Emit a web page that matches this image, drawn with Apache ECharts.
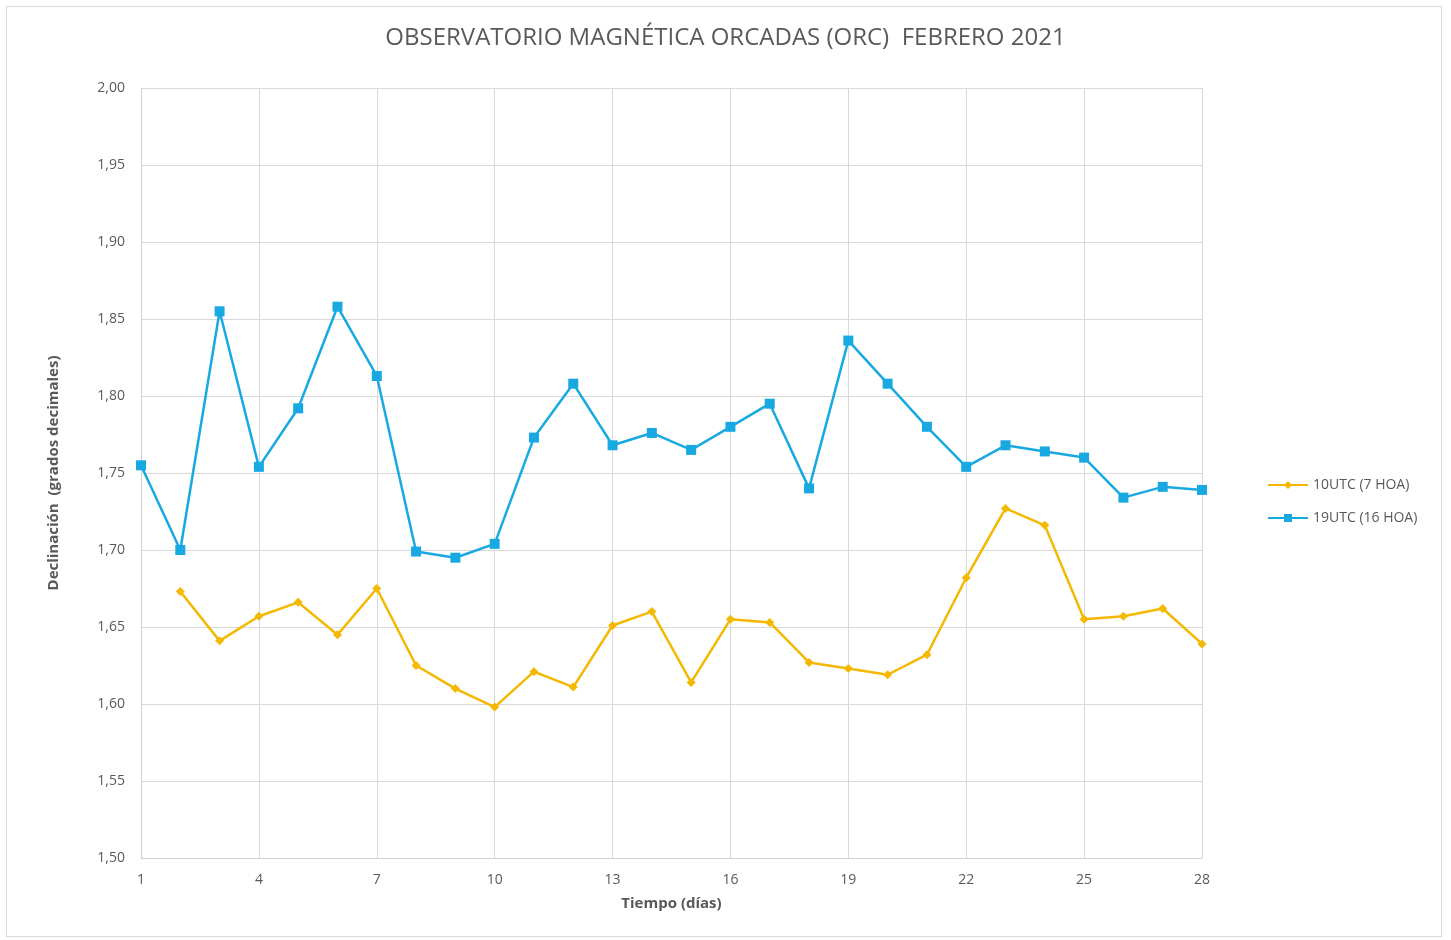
<!DOCTYPE html>
<html><head><meta charset="utf-8">
<script src="https://cdn.jsdelivr.net/npm/echarts@6/dist/echarts.min.js"></script>
<style>
html,body{margin:0;padding:0;background:#fff;}
#frame{position:absolute;left:6px;top:6px;width:1436px;height:931px;border:1px solid #d9d9d9;box-sizing:border-box;}
#c{position:absolute;left:0;top:0;width:1451px;height:940px;}
</style></head>
<body><div id="frame"></div><div id="c"></div>
<script>
const days = ['1','2','3','4','5','6','7','8','9','10','11','12','13','14','15','16','17','18','19','20','21','22','23','24','25','26','27','28'];
const utc10 = [null,1.673,1.641,1.657,1.666,1.645,1.675,1.625,1.610,1.598,1.621,1.611,1.651,1.660,1.614,1.655,1.653,1.627,1.623,1.619,1.632,1.682,1.727,1.716,1.655,1.657,1.662,1.639];
const utc19 = [1.755,1.700,1.855,1.754,1.792,1.858,1.813,1.699,1.695,1.704,1.773,1.808,1.768,1.776,1.765,1.780,1.795,1.740,1.836,1.808,1.780,1.754,1.768,1.764,1.760,1.734,1.741,1.739];
const yTicks = {min:1.5, max:2.0, step:0.05};
const titleText = 'OBSERVATORIO MAGNÉTICA ORCADAS (ORC)  FEBRERO 2021';
const xName = 'Tiempo (días)';
const yName = 'Declinación  (grados decimales)';
const seriesNames = ['10UTC (7 HOA)','19UTC (16 HOA)'];

const chart = echarts.init(document.getElementById('c'));
const txt = '#595959';
chart.setOption({
  animation:false,
  title:{text:titleText,left:'center',top:21,textStyle:{fontFamily:'Open Sans',fontWeight:'normal',fontSize:24,color:txt}},
  legend:{orient:'vertical',left:1262,top:473,itemGap:19,itemWidth:40,itemHeight:10,
    textStyle:{fontFamily:'Open Sans',fontSize:14,color:txt},data:seriesNames},
  grid:{left:141,right:249,top:88,bottom:82,containLabel:false},
  xAxis:{type:'category',data:days,boundaryGap:false,
    name:xName,nameLocation:'middle',nameGap:38,
    nameTextStyle:{fontFamily:'Open Sans',fontWeight:'bold',fontSize:15,color:txt},
    axisLine:{lineStyle:{color:'#d0d0d0',width:1}},axisTick:{show:false},
    axisLabel:{interval:2,color:txt,fontFamily:'Open Sans',fontSize:14,margin:15},
    splitLine:{show:true,interval:2,lineStyle:{color:'#d9d9d9',width:1}}},
  yAxis:{type:'value',min:yTicks.min,max:yTicks.max,interval:yTicks.step,
    name:yName,nameLocation:'middle',nameGap:80,nameRotate:90,
    nameTextStyle:{fontFamily:'Open Sans',fontWeight:'bold',fontSize:15,color:txt},
    axisLine:{show:true,lineStyle:{color:'#d0d0d0'}},axisTick:{show:false},
    axisLabel:{color:txt,fontFamily:'Open Sans',fontSize:14,margin:16,
      formatter:v=>v.toFixed(2).replace('.',',')},
    splitLine:{lineStyle:{color:'#d9d9d9',width:1}}},
  series:[
    {name:seriesNames[0],type:'line',data:utc10,symbol:'diamond',symbolSize:9,
     lineStyle:{color:'#f5b800',width:2.5},itemStyle:{color:'#f5b800'},connectNulls:false},
    {name:seriesNames[1],type:'line',data:utc19,symbol:'rect',symbolSize:10,
     lineStyle:{color:'#19a9e2',width:2.5},itemStyle:{color:'#19a9e2'}}
  ]
});
</script></body></html>
